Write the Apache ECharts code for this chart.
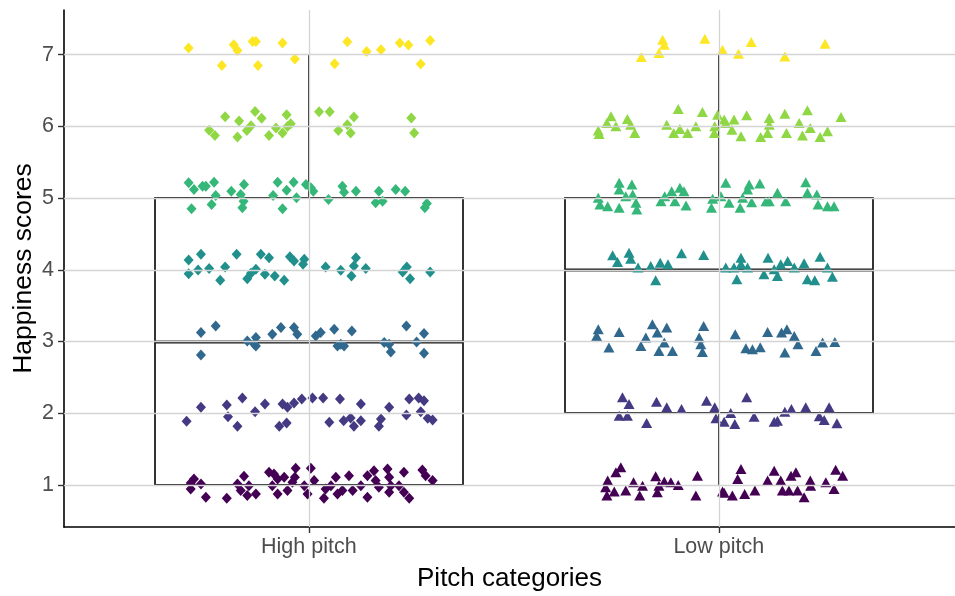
<!DOCTYPE html>
<html>
<head>
<meta charset="utf-8">
<script src="https://cdn.jsdelivr.net/npm/echarts@6/dist/echarts.min.js"></script>
<style>
html,body{margin:0;padding:0;background:#fff;}
#chart{width:955px;height:596px;}
</style>
</head>
<body>
<div id="chart"></div>
<script>
// ---- Data ----
const categories = ['High pitch', 'Low pitch'];
const categoryPositions = [1, 2];
const yTickValues = [1, 2, 3, 4, 5, 6, 7];

// Box statistics per category
const boxLower  = [1, 1];
const boxQ1     = [1, 2];
const boxMedian = [3, 4];
const boxQ3     = [5, 5];
const boxUpper  = [7, 7];

const highPitchPoints = [
  // 7
  [0.707,7.093],[0.817,7.139],[0.826,7.06],[0.863,7.185],[0.871,7.185],[0.936,7.163],[0.788,6.851],[0.876,6.851],[0.966,6.94],[1.094,7.181],[1.141,7.046],[1.176,7.07],[1.222,7.163],[1.243,7.135],[1.296,7.2],[1.063,6.875],[1.273,6.87],
  // 6
  [0.796,6.136],[0.869,6.21],[0.885,6.113],[0.83,6.077],[0.757,5.946],[0.771,5.872],[0.826,5.854],[0.849,5.942],[0.859,6.011],[0.903,5.872],[0.92,5.979],[0.936,5.91],[0.948,6.0],[0.956,6.039],[0.946,6.164],[1.025,6.206],[1.051,6.206],[1.11,6.132],[1.094,6.025],[1.072,5.942],[1.102,5.91],[1.25,6.118],[1.257,5.91],
  // 5
  [0.707,5.213],[0.72,5.12],[0.741,5.166],[0.749,5.166],[0.769,5.222],[0.773,5.037],[0.763,4.911],[0.714,4.851],[0.811,5.097],[0.842,5.19],[0.834,5.051],[0.841,4.958],[0.838,4.866],[0.924,5.222],[0.963,5.222],[0.946,5.111],[0.913,5.037],[0.97,5.005],[0.936,4.851],[0.993,5.19],[1.005,5.144],[1.011,5.097],[1.048,4.981],[1.082,5.166],[1.086,5.083],[1.115,5.097],[1.171,5.097],[1.163,4.935],[1.18,4.958],[1.212,5.12],[1.235,5.097],[1.288,4.926],[1.283,4.866],
  // 4
  [0.707,4.136],[0.737,4.216],[0.707,3.947],[0.73,3.997],[0.757,4.017],[0.784,3.854],[0.796,4.039],[0.824,4.216],[0.85,3.877],[0.859,3.951],[0.871,4.007],[0.883,4.216],[0.903,4.17],[0.893,3.937],[0.917,3.914],[0.94,3.854],[0.954,4.184],[0.964,4.123],[0.989,4.146],[0.986,4.077],[1.041,4.039],[1.078,3.993],[1.115,4.17],[1.11,4.053],[1.104,3.914],[1.139,4.017],[1.229,3.969],[1.239,4.039],[1.247,3.877],[1.296,3.969],
  // 3
  [0.737,3.125],[0.773,3.217],[0.85,3.008],[0.871,3.056],[0.867,2.962],[0.911,3.102],[0.932,3.195],[0.964,3.195],[0.972,3.102],[1.017,3.078],[1.029,3.125],[1.062,3.171],[1.105,3.148],[1.078,2.962],[1.184,2.986],[1.196,2.962],[1.238,3.217],[1.281,3.111],[1.263,2.994],[0.737,2.813],[0.871,2.939],[1.07,2.939],[1.086,2.939],[1.2,2.855],[1.281,2.837],
  // 2
  [0.702,1.887],[0.737,2.082],[0.8,2.114],[0.803,1.951],[0.826,1.818],[0.838,2.212],[0.869,2.021],[0.893,2.128],[0.928,1.818],[0.946,1.864],[0.936,2.128],[0.948,2.082],[0.964,2.142],[0.983,2.198],[1.009,2.212],[1.035,2.212],[1.076,2.198],[1.05,1.873],[1.085,1.896],[1.102,1.933],[1.11,1.818],[1.127,2.128],[1.127,1.896],[1.176,1.919],[1.171,1.818],[1.196,2.082],[1.238,1.975],[1.245,2.198],[1.268,2.212],[1.281,2.174],[1.273,2.021],[1.29,1.929],[1.302,1.905],
  // 1
  [0.72,1.084],[0.737,1.014],[0.712,0.944],[0.749,0.829],[0.8,0.815],[0.842,1.121],[0.826,1.014],[0.834,0.921],[0.854,0.99],[0.85,0.851],[0.871,0.875],[0.903,1.177],[0.915,1.153],[0.924,1.084],[0.94,1.107],[0.911,0.99],[0.924,0.875],[0.948,0.921],[0.968,1.232],[0.966,1.107],[0.96,1.038],[0.989,0.99],[1.005,1.232],[1.013,1.06],[0.997,0.875],[1.041,0.944],[1.037,0.815],[1.066,1.107],[1.054,0.99],[1.07,0.875],[1.098,1.129],[1.082,0.921],[1.107,0.921],[1.127,0.99],[1.143,1.129],[1.159,1.199],[1.163,1.06],[1.143,0.829],[1.171,0.968],[1.192,1.223],[1.196,1.107],[1.2,0.99],[1.196,0.898],[1.232,1.177],[1.22,0.99],[1.232,0.898],[1.245,0.815],[1.277,1.209],[1.285,1.129],[1.302,1.06],[0.712,1.028]
];

const lowPitchPoints = [
  // 7
  [1.863,7.209],[1.867,7.139],[1.854,7.024],[1.811,6.968],[1.966,7.223],[2.009,7.07],[2.048,7.014],[2.079,7.177],[2.161,6.976],[2.259,7.153],
  // 6
  [1.706,5.942],[1.708,5.896],[1.727,6.049],[1.737,6.141],[1.749,6.001],[1.777,6.104],[1.785,6.025],[1.795,5.91],[1.873,6.025],[1.89,5.91],[1.901,6.244],[1.905,5.965],[1.924,5.91],[1.944,6.001],[1.96,6.202],[1.989,5.91],[1.99,6.001],[1.997,6.164],[2.013,6.095],[2.017,6.049],[2.037,6.095],[2.032,5.955],[2.054,5.862],[2.068,6.155],[2.102,5.854],[2.119,5.91],[2.123,6.118],[2.123,6.025],[2.161,6.178],[2.165,5.91],[2.196,6.049],[2.204,5.872],[2.216,6.224],[2.223,5.979],[2.247,5.854],[2.265,5.932],[2.298,6.132],
  // 5
  [1.757,5.214],[1.757,5.121],[1.788,5.19],[1.706,5.005],[1.71,4.912],[1.729,4.888],[1.757,4.866],[1.773,5.027],[1.79,5.051],[1.798,4.935],[1.8,4.842],[1.859,4.958],[1.868,5.027],[1.885,5.097],[1.893,4.958],[1.905,5.144],[1.915,5.097],[1.92,4.898],[1.985,4.991],[1.982,4.866],[2.005,5.027],[2.017,5.214],[2.025,4.935],[2.052,4.866],[2.058,5.005],[2.074,5.19],[2.07,5.121],[2.08,4.944],[2.1,5.204],[2.115,4.958],[2.123,4.958],[2.143,5.075],[2.163,4.958],[2.212,5.222],[2.216,5.075],[2.239,5.051],[2.242,4.912],[2.265,4.888],[2.281,4.888],
  // 4
  [1.741,4.202],[1.753,4.109],[1.781,4.239],[1.785,4.156],[1.803,4.031],[1.834,4.053],[1.846,3.854],[1.857,4.1],[1.876,4.077],[1.909,4.23],[1.963,4.206],[2.017,4.031],[2.037,4.031],[2.044,3.868],[2.054,4.17],[2.054,4.077],[2.07,4.031],[2.11,3.937],[2.12,4.17],[2.135,4.007],[2.143,3.914],[2.151,4.077],[2.168,4.123],[2.184,4.031],[2.208,4.09],[2.216,3.868],[2.234,3.854],[2.247,4.184],[2.265,4.031],[2.277,3.905],
  // 3
  [1.706,3.171],[1.702,3.078],[1.757,3.134],[1.732,2.916],[1.838,3.241],[1.85,3.125],[1.873,3.195],[1.822,3.056],[1.81,2.939],[1.867,2.986],[1.854,2.869],[1.887,2.869],[1.952,3.056],[1.963,3.217],[1.956,2.962],[1.96,2.855],[2.04,3.102],[2.082,2.893],[2.066,2.907],[2.101,2.921],[2.119,3.134],[2.153,3.125],[2.166,3.171],[2.184,3.078],[2.193,2.962],[2.161,2.847],[2.237,2.869],[2.253,2.986],[2.283,2.994],
  // 2
  [1.765,2.221],[1.781,2.128],[1.757,1.965],[1.777,1.965],[1.824,1.864],[1.848,2.16],[1.873,2.082],[1.909,2.058],[1.97,2.174],[1.99,2.082],[1.993,1.929],[2.013,1.882],[2.029,2.003],[2.039,1.85],[2.068,2.221],[2.086,1.951],[2.135,1.882],[2.143,1.896],[2.161,2.021],[2.177,2.058],[2.212,2.082],[2.245,1.957],[2.257,1.905],[2.269,2.082],[2.288,1.859],
  // 1
  [1.761,1.246],[1.749,1.177],[1.729,1.06],[1.724,0.968],[1.727,0.851],[1.745,0.907],[1.773,0.921],[1.792,1.038],[1.814,0.99],[1.807,0.851],[1.846,1.121],[1.854,0.99],[1.85,0.898],[1.867,1.046],[1.883,1.038],[1.901,1.0],[1.948,1.129],[1.944,0.851],[2.009,0.907],[2.033,0.851],[2.054,1.223],[2.046,1.084],[2.063,0.875],[2.088,0.921],[2.119,1.06],[2.135,1.199],[2.151,1.06],[2.155,0.921],[2.176,1.129],[2.188,1.177],[2.171,0.921],[2.192,0.921],[2.208,0.829],[2.223,1.06],[2.224,0.99],[2.261,1.038],[2.285,1.213],[2.302,1.129],[2.281,0.944],[2.013,0.889]
];

// ---- Style ----
const viridis7 = ['#440154', '#443A83', '#31688E', '#21908C', '#35B779', '#8FD744', '#FDE725'];
const FONT = '"Liberation Sans", Arial, sans-serif';
const levelColor = p => viridis7[Math.min(7, Math.max(1, Math.round(p.value[1]))) - 1];

const boxData = categoryPositions.map((c, i) => [c, boxLower[i], boxQ1[i], boxMedian[i], boxQ3[i], boxUpper[i]]);
const BOX_HALF = 0.375;
const snap = v => Math.round(v);

const chart = echarts.init(document.getElementById('chart'), null, { renderer: 'canvas' });

chart.setOption({
  animation: false,
  backgroundColor: '#ffffff',
  textStyle: { fontFamily: FONT },
  grid: { left: 64, right: 0, top: 10, bottom: 69, containLabel: false, outerBoundsMode: 'none' },
  xAxis: {
    type: 'value',
    min: 0.403,
    max: 2.576,
    name: 'Pitch categories',
    nameLocation: 'middle',
    nameGap: 39,
    nameTextStyle: { fontSize: 26, color: '#000', fontFamily: FONT },
    axisLine: { show: true, onZero: false, lineStyle: { color: '#000', width: 1.6 } },
    axisTick: { show: true, customValues: categoryPositions, length: 6, lineStyle: { color: '#333', width: 1.4 } },
    axisLabel: {
      customValues: categoryPositions,
      formatter: v => categories[Math.round(v) - 1],
      fontSize: 21.5, color: '#4d4d4d', margin: 9, fontFamily: FONT
    },
    splitLine: { show: false }
  },
  yAxis: {
    type: 'value',
    min: 0.413,
    max: 7.624,
    name: 'Happiness scores',
    nameLocation: 'middle',
    nameGap: 31,
    nameMoveOverlap: false,
    nameRotate: 90,
    nameTextStyle: { fontSize: 26.5, color: '#000', fontFamily: FONT, padding: [0, 0, -4, 0] },
    axisLine: { show: true, onZero: false, lineStyle: { color: '#000', width: 1.6 } },
    axisTick: { show: true, customValues: yTickValues, length: 6, lineStyle: { color: '#333', width: 1.4 } },
    axisLabel: { customValues: yTickValues, fontSize: 21.5, color: '#4d4d4d', margin: 10, fontFamily: FONT },
    splitLine: { show: false }
  },
  series: [
    {
      name: 'grid',
      type: 'scatter',
      data: [],
      z: 1,
      silent: true,
      markLine: {
        silent: true,
        symbol: ['none', 'none'],
        label: { show: false },
        lineStyle: { color: '#d4d4d4', width: 1.3, type: 'solid' },
        data: [
          ...yTickValues.map(v => ({ yAxis: v })),
          ...categoryPositions.map(v => ({ xAxis: v }))
        ]
      }
    },
    {
      name: 'box',
      type: 'custom',
      z: 2,
      silent: true,
      encode: { x: 0, y: [1, 2, 3, 4, 5] },
      data: boxData,
      renderItem: (params, api) => {
        const x = api.value(0), lo = api.value(1), q1 = api.value(2), med = api.value(3), q3 = api.value(4), hi = api.value(5);
        const tl = api.coord([x - BOX_HALF, q3]);
        const br = api.coord([x + BOX_HALF, q1]);
        const c = api.coord([x, med]);
        const cx = snap(c[0]);
        const stroke = '#1f1f1f';
        const lw = 1.8;
        const children = [
          { type: 'rect', shape: { x: snap(tl[0]), y: snap(tl[1]), width: snap(br[0]) - snap(tl[0]), height: snap(br[1]) - snap(tl[1]) },
            style: { fill: 'none', stroke: stroke, lineWidth: lw } }
        ];
        if (hi > q3) {
          const a = api.coord([x, q3]), b = api.coord([x, hi]);
          children.push({ type: 'line', shape: { x1: cx, y1: snap(a[1]), x2: cx, y2: snap(b[1]) }, style: { stroke: stroke, lineWidth: lw } });
        }
        if (lo < q1) {
          const a = api.coord([x, lo]), b = api.coord([x, q1]);
          children.push({ type: 'line', shape: { x1: cx, y1: snap(a[1]), x2: cx, y2: snap(b[1]) }, style: { stroke: stroke, lineWidth: lw } });
        }
        const m1 = api.coord([x - BOX_HALF, med]), m2 = api.coord([x + BOX_HALF, med]);
        children.push({ type: 'line', shape: { x1: snap(m1[0]), y1: snap(m1[1]), x2: snap(m2[0]), y2: snap(m2[1]) }, style: { stroke: '#1a1a1a', lineWidth: 3.2 } });
        return { type: 'group', children: children };
      }
    },
    {
      name: categories[0],
      type: 'scatter',
      z: 3,
      symbol: 'diamond',
      symbolSize: [10, 11],
      data: highPitchPoints,
      itemStyle: { color: levelColor, opacity: 1 }
    },
    {
      name: categories[1],
      type: 'scatter',
      z: 3,
      symbol: 'triangle',
      symbolSize: [11, 10],
      data: lowPitchPoints,
      itemStyle: { color: levelColor, opacity: 1 }
    }
  ]
});
</script>
</body>
</html>
